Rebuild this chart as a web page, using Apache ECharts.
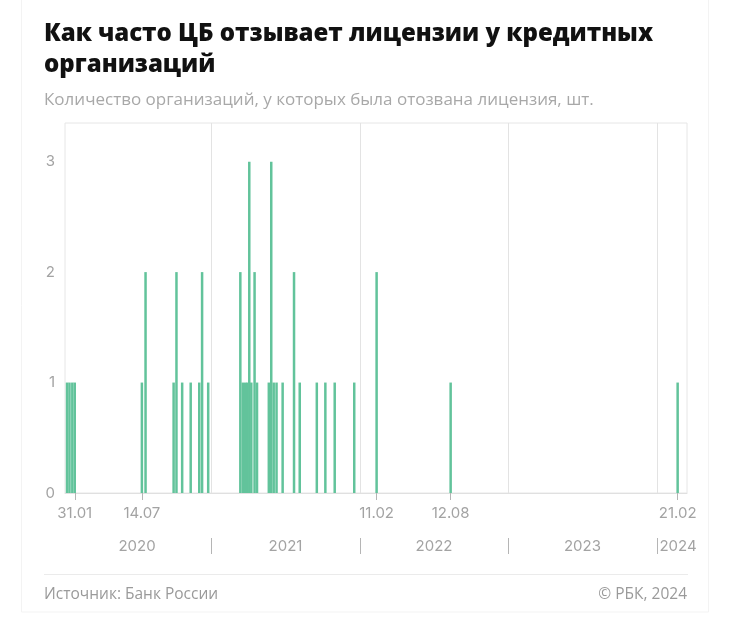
<!DOCTYPE html>
<html><head><meta charset="utf-8">
<script src="https://cdn.jsdelivr.net/npm/echarts@6/dist/echarts.min.js"></script>
<style>html,body{margin:0;padding:0;background:#fff;}#c{width:746px;height:617px;}</style>
</head><body><div id="c"></div>
<script>
const revocationDates = ['2020-01-12','2020-01-18','2020-01-25','2020-01-31','2020-07-14','2020-07-23','2020-09-30','2020-10-07','2020-10-21','2020-11-11','2020-12-02','2020-12-09','2020-12-24','2021-03-13','2021-03-19','2021-03-25','2021-03-30','2021-04-04','2021-04-09','2021-04-17','2021-04-23','2021-05-22','2021-05-28','2021-06-03','2021-06-10','2021-06-25','2021-07-23','2021-08-06','2021-09-17','2021-10-08','2021-10-31','2021-12-18','2022-02-11','2022-08-12','2024-02-21'];
const revocationCounts = [1,1,1,1,1,2,1,2,1,1,1,2,1,2,1,1,1,3,1,2,1,1,3,1,1,1,2,1,1,1,1,1,2,1,1];
const dateTicks = ['2020-01-31','2020-07-14','2022-02-11','2022-08-12','2024-02-21'];
const yearBoundaries = ['2021-01-01','2022-01-01','2023-01-01','2024-01-01'];
const yearLabelDates = ['2020-07-02','2021-07-02','2022-07-02','2023-07-02','2024-02-22'];
const yearLabels = ['2020','2021','2022','2023','2024'];
const yTicks = [0,1,2,3];
const axisMin = '2020-01-07';
const axisMax = '2024-03-15';

const ts = s => new Date(s + 'T00:00:00Z').getTime();
const pad = n => (n < 10 ? '0' : '') + n;
const yearLabelMap = {};
yearLabelDates.forEach((d, i) => { yearLabelMap[ts(d)] = yearLabels[i]; });

const gray = '#a3a3a3';
const chart = echarts.init(document.getElementById('c'), null, {renderer: 'canvas'});
chart.setOption({
  backgroundColor: '#fff',
  animation: false,
  title: [
    {text: 'Как часто ЦБ отзывает лицензии у кредитных\nорганизаций', left: 44, top: 19, padding: 0,
     textStyle: {fontFamily: 'Open Sans', fontWeight: 800, fontSize: 24, lineHeight: 31, color: '#111'}},
    {text: 'Количество организаций, у которых была отозвана лицензия, шт.', left: 44, top: 92, padding: 0,
     textStyle: {fontFamily: 'Open Sans', fontWeight: 'normal', fontSize: 17, color: '#a8a8a8'}},
    {text: 'Источник: Банк России', left: 44, top: 587, padding: 0,
     textStyle: {fontFamily: 'Open Sans', fontWeight: 'normal', fontSize: 15.5, color: '#9a9a9a'}},
    {text: '© РБК, 2024', right: 59, top: 587, padding: 0,
     textStyle: {fontFamily: 'Open Sans', fontWeight: 'normal', fontSize: 15.5, color: '#9a9a9a'}}
  ],
  graphic: [
    {type: 'rect', shape: {x: 21.5, y: -2, width: 687, height: 614}, style: {fill: 'none', stroke: '#f3f3f3', lineWidth: 1}, z: -1},
    {type: 'line', shape: {x1: 44, y1: 574.5, x2: 688, y2: 574.5}, style: {stroke: '#ebebeb', lineWidth: 1}}
  ],
  grid: {left: 65, right: 59, top: 123, bottom: 124, show: true, borderColor: '#e6e6e6', borderWidth: 1},
  xAxis: [
    {type: 'value', min: ts(axisMin), max: ts(axisMax), position: 'bottom',
     axisLine: {show: true, lineStyle: {color: '#e0e0e0'}},
     axisTick: {show: true, customValues: dateTicks.map(ts), length: 7, lineStyle: {color: '#b5b5b5'}},
     axisLabel: {customValues: dateTicks.map(ts), margin: 13, fontFamily: 'Inter', fontSize: 15, color: gray,
       formatter: v => { const d = new Date(v); return pad(d.getUTCDate()) + '.' + pad(d.getUTCMonth() + 1); }},
     splitLine: {show: false}},
    {type: 'value', min: ts(axisMin), max: ts(axisMax), position: 'bottom', offset: 45,
     axisLine: {show: false},
     axisTick: {show: true, customValues: yearBoundaries.map(ts), length: 16, lineStyle: {color: '#b5b5b5'}},
     axisLabel: {customValues: yearLabelDates.map(ts), margin: 1, fontFamily: 'Inter', fontSize: 15, color: gray,
       formatter: v => yearLabelMap[v] || ''},
     splitLine: {show: false}}
  ],
  yAxis: {type: 'value', min: 0, max: 3.35, interval: 1,
    axisLine: {show: false}, axisTick: {show: false}, splitLine: {show: false},
    axisLabel: {customValues: yTicks, margin: 10, fontFamily: 'Inter', fontSize: 15, color: gray}},
  series: [{
    type: 'bar', xAxisIndex: 0, barWidth: 2.5,
    itemStyle: {color: '#62c39b'},
    data: revocationDates.map((d, i) => [ts(d), revocationCounts[i]]),
    markLine: {silent: true, symbol: 'none', label: {show: false},
      lineStyle: {color: '#e3e3e3', type: 'solid', width: 1},
      data: yearBoundaries.map(d => ({xAxis: ts(d)}))}
  }]
});
</script></body></html>
